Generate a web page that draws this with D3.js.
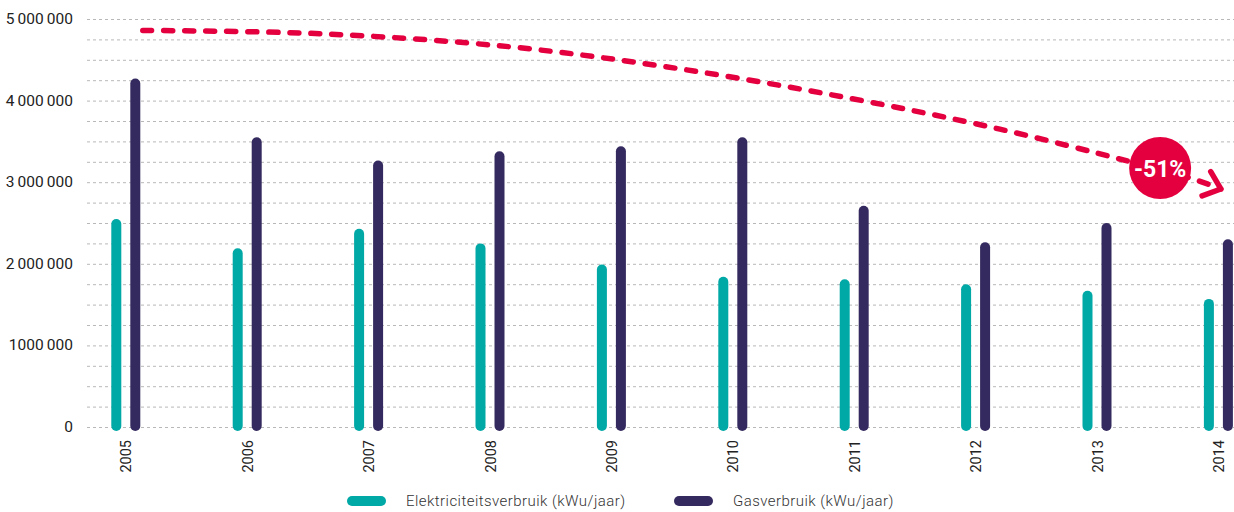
<!DOCTYPE html>
<html><head><meta charset="utf-8">
<script src="https://cdn.jsdelivr.net/npm/d3@7"></script>
<style>html,body{margin:0;padding:0;background:#fff}svg{display:block}</style>
</head><body>
<svg id="c" width="1234" height="512"></svg>
<script>
const years = [2005,2006,2007,2008,2009,2010,2011,2012,2013,2014];
const elektriciteit = [2550000,2190000,2430000,2250000,1990000,1840000,1810000,1750000,1670000,1570000];
const gas = [4270000,3550000,3265000,3380000,3440000,3550000,2710000,2265000,2500000,2300000];
const yTicks = [0,1000000,2000000,3000000,4000000,5000000];
const yTickLabels = ["0","1000\u2009000","2\u2009000\u2009000","3\u2009000\u2009000","4\u2009000\u2009000","5\u2009000\u2009000"];
const trendYears = [2005.14,2006.60,2008.16,2009.56,2010.96,2012.20,2013.25,2013.77,2014.02];
const trendValues = [4860000,4820000,4660000,4390000,4030000,3650000,3260000,3050000,2917000];
const badgeYear = 2013.52, badgeValue = 3174000, badgeText = "-51%";
const legendLabels = ["Elektriciteitsverbruik (kWu/jaar)","Gasverbruik (kWu/jaar)"];

const C_TEAL = "#00a8a6", C_PURPLE = "#352a5f", C_RED = "#e4003f";
const svg = d3.select("#c");
const x = d3.scaleLinear().domain([2005,2014]).range([125.8,1218.4]);
const y = d3.scaleLinear().domain([0,5000000]).range([427,19]);

// gridlines every 250k
const grid = d3.range(0,5000001,250000);
svg.append("g").selectAll("line").data(grid).join("line")
  .attr("x1",87).attr("x2",1234)
  .attr("y1",d=>y(d)+0.5).attr("y2",d=>y(d)+0.5)
  .attr("stroke","#b8b8b8").attr("stroke-width",1).attr("stroke-dasharray","3,3");

// y labels
svg.append("g").selectAll("text").data(yTicks).join("text")
  .attr("x",73).attr("y",d=>y(d)).attr("text-anchor","end").attr("dominant-baseline","central")
  .attr("font-family","Roboto").attr("font-size",15.5).attr("fill","#222")
  .text((d,i)=>yTickLabels[i]);

const bw = 10, off = 9.5;
function bars(vals, dx, color){
  svg.append("g").selectAll("rect").data(vals).join("rect")
    .attr("x",(d,i)=>x(years[i])+dx-bw/2).attr("width",bw)
    .attr("y",d=>y(d)).attr("height",d=>y(0)+4-y(d))
    .attr("rx",bw/2).attr("fill",color);
}
bars(elektriciteit,-off,C_TEAL);
bars(gas,off,C_PURPLE);

// year labels
svg.append("g").selectAll("text").data(years).join("text")
  .attr("transform",d=>`translate(${x(d)+1},440) rotate(-90)`)
  .attr("text-anchor","end").attr("dominant-baseline","central")
  .attr("font-family","Roboto").attr("font-size",14.5).attr("fill","#222")
  .text(d=>d);

// trend line
const pts = trendYears.map((t,i)=>[x(t),y(trendValues[i])]);
svg.append("path").attr("d",d3.line().curve(d3.curveCatmullRom)(pts))
  .attr("fill","none").attr("stroke",C_RED).attr("stroke-width",5.5)
  .attr("stroke-linecap","round").attr("stroke-dasharray","9,12");
// arrow head
const tip = pts[pts.length-1], prev = pts[pts.length-2];
const ang = Math.atan2(tip[1]-prev[1], tip[0]-prev[0]);
const L = 20, a = 40*Math.PI/180;
const arms = [ang+Math.PI-a, ang+Math.PI+a].map(t=>[tip[0]+L*Math.cos(t), tip[1]+L*Math.sin(t)]);
svg.append("path").attr("d",d3.line()([arms[0],tip,arms[1]]))
  .attr("fill","none").attr("stroke",C_RED).attr("stroke-width",5.5)
  .attr("stroke-linecap","round").attr("stroke-linejoin","round");
// badge
svg.append("circle").attr("cx",x(badgeYear)).attr("cy",y(badgeValue)).attr("r",31).attr("fill",C_RED);
svg.append("text").attr("x",x(badgeYear)).attr("y",y(badgeValue)+1)
  .attr("text-anchor","middle").attr("dominant-baseline","central")
  .attr("font-family","Roboto").attr("font-weight",700).attr("font-size",23).attr("fill","#fff")
  .text(badgeText);

// legend
const legX = [347,674], legC = [C_TEAL,C_PURPLE];
legendLabels.forEach((lab,i)=>{
  svg.append("rect").attr("x",legX[i]).attr("y",496).attr("width",39).attr("height",10).attr("rx",5).attr("fill",legC[i]);
  svg.append("text").attr("x",legX[i]+59).attr("y",501).attr("dominant-baseline","central")
    .attr("font-family","Roboto").attr("font-weight",300).attr("font-size",15).attr("letter-spacing",0.45)
    .attr("fill","#333").text(lab);
});
</script>
</body></html>
